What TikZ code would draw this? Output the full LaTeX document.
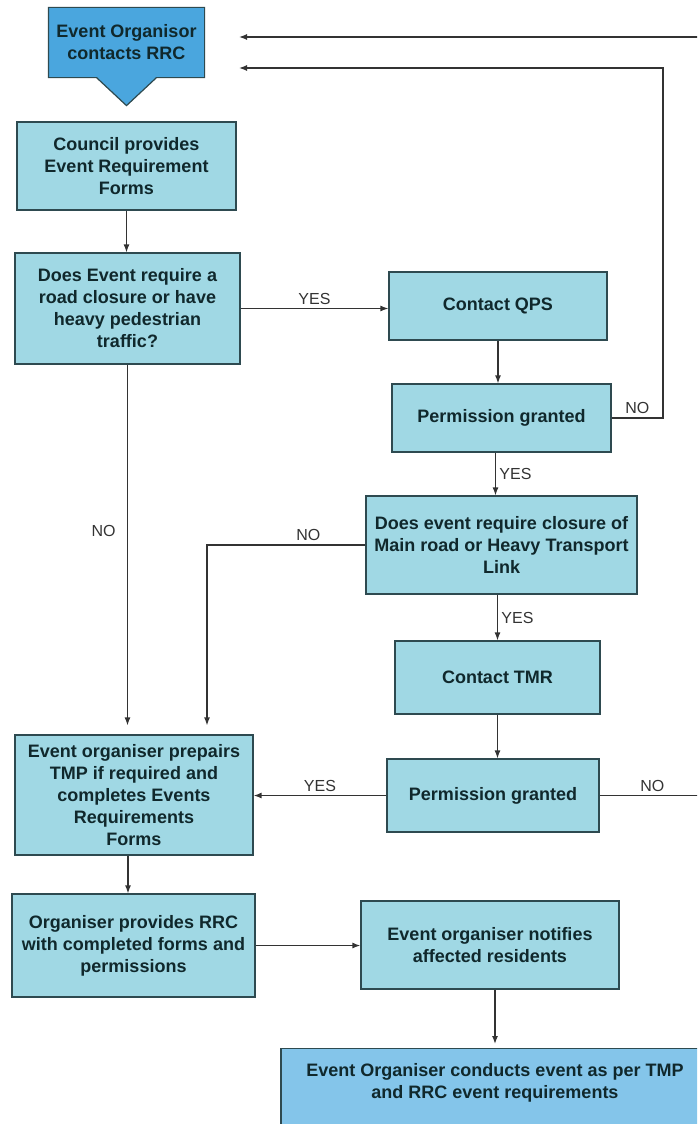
\documentclass[tikz,border=0pt]{standalone}
\usepackage{fontspec}
\setmainfont{Liberation Sans}
\usetikzlibrary{positioning,backgrounds,arrows.meta}
\definecolor{boxfill}{HTML}{A0D8E4}
\definecolor{startfill}{HTML}{4AA6DE}
\definecolor{endfill}{HTML}{84C5EA}
\definecolor{boxline}{HTML}{2E4A50}
\definecolor{boxtext}{HTML}{10282C}
\definecolor{flowline}{HTML}{333333}
\tikzset{
  box/.style={draw=boxline,line width=1.2pt,fill=boxfill,text=boxtext,align=center,
    font=\bfseries\fontsize{18}{22}\selectfont},
  arr/.style={-{Latex[length=8pt,width=6pt]},draw=flowline,line width=1.3pt},
  lbl/.style={font=\fontsize{16}{18}\selectfont,text=flowline},
}
\begin{document}
\begin{tikzpicture}[x=1pt,y=-1pt]
\clip (0,0) rectangle (697,1124);
% start shape
\node[box,draw=none,fill=none,minimum width=155pt,minimum height=69pt] (start) at (126.5,42.5) {Event Organisor\\contacts RRC};
\begin{scope}[on background layer]
\filldraw[draw=boxline,fill=startfill,line width=1.2pt] (start.north west) -- (start.north east) -- (start.south east)
  -- ([xshift=30pt]start.south) -- ([yshift=-28pt]start.south) -- ([xshift=-30pt]start.south) -- (start.south west) -- cycle;
\end{scope}
% boxes
\node[box,minimum width=219pt,minimum height=88pt] (council) at (126.5,166) {Council provides\\Event Requirement\\Forms};
\node[box,minimum width=225pt,minimum height=111pt] (q1) at (127.5,308.5) {Does Event require a\\road closure or have\\heavy pedestrian\\traffic?};
\node[box,minimum width=218pt,minimum height=68pt] (qps) at (498,306) {Contact QPS};
\node[box,minimum width=219pt,minimum height=68pt] (pg1) at (501.5,418) {Permission granted};
\node[box,minimum width=271pt,minimum height=98pt] (q2) at (501.5,545) {Does event require closure of\\Main road or Heavy Transport\\Link};
\node[box,minimum width=205pt,minimum height=73pt] (tmr) at (497.5,677.5) {Contact TMR};
\node[box,minimum width=238pt,minimum height=120pt] (prep) at (134,795) {Event organiser prepairs\\TMP if required and\\completes Events\\Requirements\\Forms};
\node[box,minimum width=212pt,minimum height=73pt] (pg2) at (493,795.5) {Permission granted};
\node[box,minimum width=243pt,minimum height=103pt] (provide) at (133.5,945.5) {Organiser provides RRC\\with completed forms and\\permissions};
\node[box,minimum width=258pt,minimum height=88pt] (notify) at (490,945) {Event organiser notifies\\affected residents};
\node[box,fill=endfill,anchor=north,minimum width=428pt,inner ysep=15pt,text depth=60pt] (final) at (495,1048) {Event Organiser conducts event as per TMP\\and RRC event requirements};
% connectors
\coordinate (in1) at (239,37);
\coordinate (in2) at (239,68);
\draw[arr] (council.south) -- (council.south |- q1.north);
\draw[arr] (q1.east) -- node[lbl,above]{YES} (q1.east -| qps.west);
\draw[arr] (qps.south) -- (qps.south |- pg1.north);
\draw[arr] (pg1.east) -| node[lbl,pos=0.25,above]{NO} (663,68) -- (in2);
\draw[arr] ([xshift=-6pt]pg1.south) -- node[lbl,right]{YES} ([xshift=-6pt]q2.north);
\draw[arr,shorten >=9pt] (q1.south) -- node[lbl,pos=0.45,left=8pt]{NO} (q1.south |- prep.north);
\draw[arr,shorten >=9pt] (q2.west) -| node[lbl,pos=0.18,above]{NO} ([xshift=73pt]prep.north);
\draw[arr] (tmr.north |- q2.south) -- node[lbl,right]{YES} (tmr.north);
\draw[arr] (tmr.south) -- (tmr.south |- pg2.north);
\draw[arr] (pg2.west) -- node[lbl,above]{YES} (pg2.west -| prep.east);
\draw[arr] (pg2.east) -| node[lbl,pos=0.25,above]{NO} (705,37) -- (in1);
\draw[arr] ([xshift=-6pt]prep.south) -- ([xshift=-6pt]prep.south |- provide.north);
\draw[arr] (provide.east) -- (provide.east -| notify.west);
\draw[arr,shorten >=4pt] (final.north |- notify.south) -- (final.north);
\end{tikzpicture}
\end{document}
